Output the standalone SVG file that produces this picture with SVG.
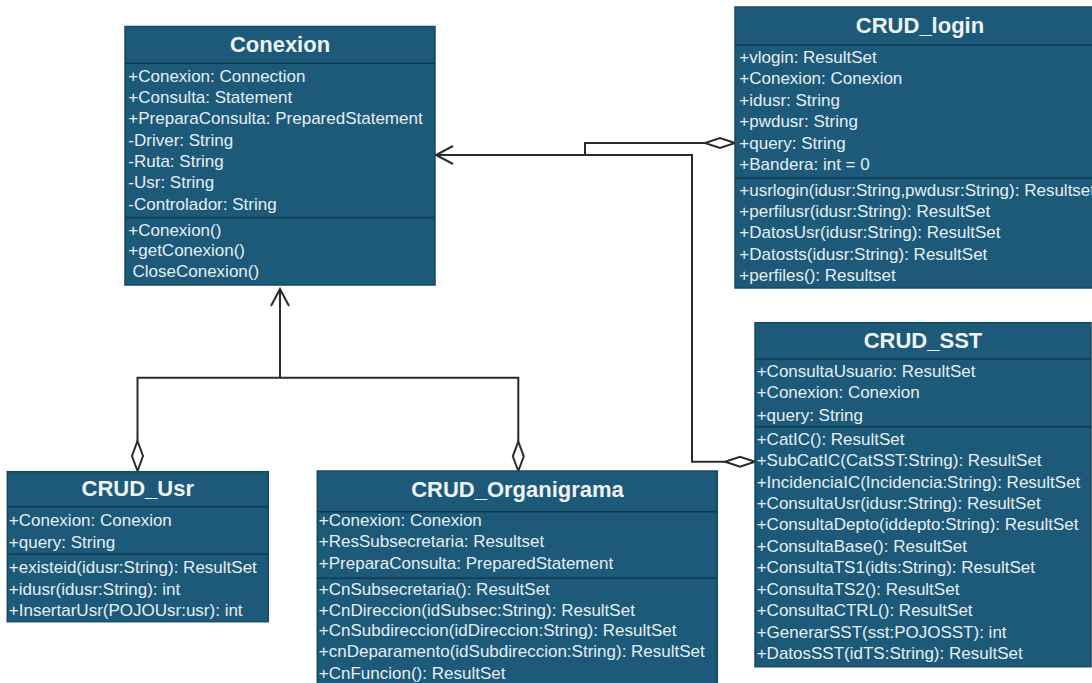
<svg xmlns="http://www.w3.org/2000/svg" width="1092" height="683" viewBox="0 0 1092 683">
  <style>
    .box { fill: #1d5a79; stroke: #164a64; stroke-width: 1.5; }
    .sep { stroke: #0f3b52; stroke-width: 1.5; }
    .title { font-family: "Liberation Sans", Arial, sans-serif; font-size: 22px; font-weight: bold; fill: #eef3f6; text-anchor: middle; }
    .t { font-family: "Liberation Sans", Arial, sans-serif; font-size: 17px; fill: #e6eef2; }
    .wire { fill: none; stroke: #2b2b2b; stroke-width: 2; }
    .dia { fill: #ffffff; stroke: #2b2b2b; stroke-width: 2; }
  </style>
  <rect width="1092" height="683" fill="#ffffff"/>

  <!-- associations -->
  <g id="connectors">
    <path class="wire" d="M705 143 H585 V155 H436"/>
    <path class="wire" d="M725 461.7 H692 V155 H436"/>
    <path class="wire" d="M453 146 L436 155 L453 164"/>
    <path class="wire" d="M137.5 441 V377.7 H280 V289"/>
    <path class="wire" d="M518.3 441.7 V377.7 H280"/>
    <path class="wire" d="M271 306 L280 289 L289 306"/>
    <polygon class="dia" points="735,143 720,138 705,143 720,148"/>
    <polygon class="dia" points="755,461.7 740,456.7 725,461.7 740,466.7"/>
    <polygon class="dia" points="137.5,471 132,456 137.5,441 143,456"/>
    <polygon class="dia" points="518.3,471 512.8,456.3 518.3,441.7 523.8,456.3"/>
  </g>

  <g id="Conexion">
    <rect class="box" x="125" y="26.5" width="310" height="258.5"/>
    <line class="sep" x1="125" y1="63.3" x2="435" y2="63.3"/>
    <line class="sep" x1="125" y1="217.5" x2="435" y2="217.5"/>
    <text class="title" x="280" y="52">Conexion</text>
    <text class="t" x="128.3" y="81.5">+Conexion: Connection</text>
    <text class="t" x="128.3" y="102.9">+Consulta: Statement</text>
    <text class="t" x="128.3" y="124.3">+PreparaConsulta: PreparedStatement</text>
    <text class="t" x="128.3" y="145.6">-Driver: String</text>
    <text class="t" x="128.3" y="167">-Ruta: String</text>
    <text class="t" x="128.3" y="188.4">-Usr: String</text>
    <text class="t" x="128.3" y="209.7">-Controlador: String</text>
    <text class="t" x="128.3" y="235.6">+Conexion()</text>
    <text class="t" x="128.3" y="256.3">+getConexion()</text>
    <text class="t" x="132.5" y="277">CloseConexion()</text>
  </g>

  <g id="CRUD_login">
    <rect class="box" x="735" y="7" width="370" height="281"/>
    <line class="sep" x1="735" y1="45" x2="1105" y2="45"/>
    <line class="sep" x1="735" y1="178.3" x2="1105" y2="178.3"/>
    <text class="title" x="920" y="33">CRUD_login</text>
    <text class="t" x="739.3" y="63">+vlogin: ResultSet</text>
    <text class="t" x="739.3" y="84.4">+Conexion: Conexion</text>
    <text class="t" x="739.3" y="105.6">+idusr: String</text>
    <text class="t" x="739.3" y="127">+pwdusr: String</text>
    <text class="t" x="739.3" y="148.6">+query: String</text>
    <text class="t" x="739.3" y="169.5">+Bandera: int = 0</text>
    <text class="t" x="739.3" y="195.6">+usrlogin(idusr:String,pwdusr:String): Resultset</text>
    <text class="t" x="739.3" y="217">+perfilusr(idusr:String): ResultSet</text>
    <text class="t" x="739.3" y="238">+DatosUsr(idusr:String): ResultSet</text>
    <text class="t" x="739.3" y="259.5">+Datosts(idusr:String): ResultSet</text>
    <text class="t" x="739.3" y="281">+perfiles(): Resultset</text>
  </g>

  <g id="CRUD_SST">
    <rect class="box" x="755" y="322.7" width="336" height="344"/>
    <line class="sep" x1="755" y1="359" x2="1091" y2="359"/>
    <line class="sep" x1="755" y1="426.7" x2="1091" y2="426.7"/>
    <text class="title" x="923" y="348">CRUD_SST</text>
    <text class="t" x="756.7" y="376.5">+ConsultaUsuario: ResultSet</text>
    <text class="t" x="756.7" y="398">+Conexion: Conexion</text>
    <text class="t" x="756.7" y="420.5">+query: String</text>
    <text class="t" x="756.7" y="444.6">+CatIC(): ResultSet</text>
    <text class="t" x="756.7" y="466">+SubCatIC(CatSST:String): ResultSet</text>
    <text class="t" x="756.7" y="487.8">+IncidenciaIC(Incidencia:String): ResultSet</text>
    <text class="t" x="756.7" y="509">+ConsultaUsr(idusr:String): ResultSet</text>
    <text class="t" x="756.7" y="530.3">+ConsultaDepto(iddepto:String): ResultSet</text>
    <text class="t" x="756.7" y="552">+ConsultaBase(): ResultSet</text>
    <text class="t" x="756.7" y="573">+ConsultaTS1(idts:String): ResultSet</text>
    <text class="t" x="756.7" y="594.6">+ConsultaTS2(): ResultSet</text>
    <text class="t" x="756.7" y="616.3">+ConsultaCTRL(): ResultSet</text>
    <text class="t" x="756.7" y="638">+GenerarSST(sst:POJOSST): int</text>
    <text class="t" x="756.7" y="659">+DatosSST(idTS:String): ResultSet</text>
  </g>

  <g id="CRUD_Usr">
    <rect class="box" x="7.3" y="471.7" width="261" height="150"/>
    <line class="sep" x1="7.3" y1="506.7" x2="268.3" y2="506.7"/>
    <line class="sep" x1="7.3" y1="554.3" x2="268.3" y2="554.3"/>
    <text class="title" x="137.8" y="496">CRUD_Usr</text>
    <text class="t" x="8.8" y="526.3">+Conexion: Conexion</text>
    <text class="t" x="8.8" y="548">+query: String</text>
    <text class="t" x="8.8" y="573">+existeid(idusr:String): ResultSet</text>
    <text class="t" x="8.8" y="594.6">+idusr(idusr:String): int</text>
    <text class="t" x="8.8" y="615.6">+InsertarUsr(POJOUsr:usr): int</text>
  </g>

  <g id="CRUD_Organigrama">
    <rect class="box" x="317.3" y="471" width="400" height="220"/>
    <line class="sep" x1="317.3" y1="511.7" x2="717.3" y2="511.7"/>
    <line class="sep" x1="317.3" y1="578.3" x2="717.3" y2="578.3"/>
    <text class="title" x="517.5" y="496.7">CRUD_Organigrama</text>
    <text class="t" x="318.8" y="526">+Conexion: Conexion</text>
    <text class="t" x="318.8" y="547">+ResSubsecretaria: Resultset</text>
    <text class="t" x="318.8" y="568.6">+PreparaConsulta: PreparedStatement</text>
    <text class="t" x="318.8" y="594.6">+CnSubsecretaria(): ResultSet</text>
    <text class="t" x="318.8" y="615.6">+CnDireccion(idSubsec:String): ResultSet</text>
    <text class="t" x="318.8" y="636.3">+CnSubdireccion(idDireccion:String): ResultSet</text>
    <text class="t" x="318.8" y="657">+cnDeparamento(idSubdireccion:String): ResultSet</text>
    <text class="t" x="318.8" y="679">+CnFuncion(): ResultSet</text>
  </g>
</svg>
